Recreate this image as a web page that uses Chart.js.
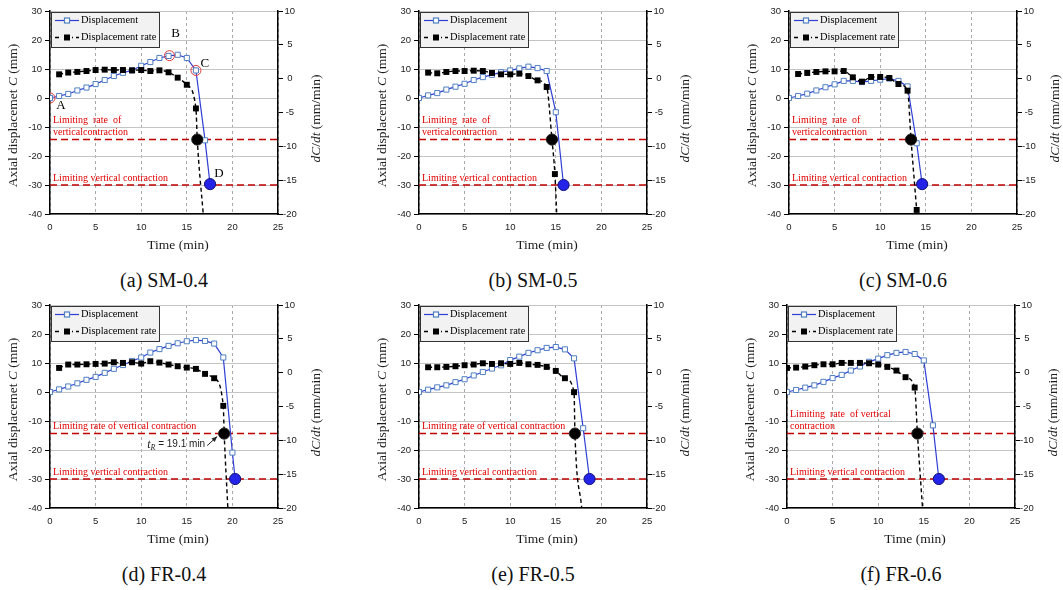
<!DOCTYPE html>
<html>
<head>
<meta charset="utf-8">
<title>Axial displacement and displacement rate</title>
<script src="https://cdn.jsdelivr.net/npm/chart.js@4.4.1/dist/chart.umd.min.js"></script>
<style>
  html, body { margin: 0; padding: 0; background: #fff; }
  body { width: 1063px; height: 590px; position: relative; overflow: hidden; }
  canvas.panel { position: absolute; }
  .caption {
    position: absolute;
    transform: translate(-50%, -50%);
    font: 20px "Liberation Serif", "Times New Roman", serif;
    color: #111;
    white-space: nowrap;
  }
</style>
</head>
<body>
<script>
// Values
const timeTicks = [0, 5, 10, 15, 20, 25];
const dispTicks = [-40, -30, -20, -10, 0, 10, 20, 30];
const rateTicks = [-20, -15, -10, -5, 0, 5, 10];
const limitDisp = -30;  // limiting vertical contraction (mm)
const limitRate = -9;   // limiting rate of vertical contraction (mm/min)

// (a) SM-0.4
const dispTimeA = [0, 1, 2, 3, 4, 5, 6, 7, 8, 9, 10, 11, 12, 13, 14, 15, 16, 17, 17.55];
const dispA = [0, 0.7, 1.4, 2.6, 3.6, 4.8, 6.2, 7.6, 8.7, 9.5, 11.1, 12.4, 13.8, 14.5, 14.9, 13.8, 9.5, -14.6, -29.7];
const rateTimeA = [1, 2, 3, 4, 5, 6, 7, 8, 9, 10, 11, 12, 13, 14, 15, 16, 16.15, 16.8];
const rateA = [0.64, 0.9, 1.0, 1.13, 1.28, 1.33, 1.28, 1.28, 1.23, 1.28, 1.13, 1.23, 0.94, 0.15, -0.9, -4.4, -9, -20];
const keyTimeA = [0, 13.1, 16];
const keyDispA = [0, 14.6, 9.5];
const keyNames = ['A', 'B', 'C', 'D'];

// (b) SM-0.5
const dispTimeB = [0, 1, 2, 3, 4, 5, 6, 7, 8, 9, 10, 11, 12, 13, 14, 15, 15.85];
const dispB = [0, 0.9, 1.7, 2.9, 3.9, 4.9, 6.2, 7.2, 8.0, 8.9, 9.5, 10.2, 10.8, 10.3, 9.3, -4.9, -30];
const rateTimeB = [1, 2, 3, 4, 5, 6, 7, 8, 9, 10, 11, 12, 13, 14, 14.58, 14.9, 15.1];
const rateB = [0.89, 0.79, 0.99, 1.13, 1.13, 1.18, 1.13, 0.84, 0.64, 0.64, 0.74, 0.39, -0.25, -1.23, -9, -14.1, -20];

// (c) SM-0.6
const dispTimeC = [0, 1, 2, 3, 4, 5, 6, 7, 8, 9, 10, 11, 12, 13, 14, 14.6];
const dispC = [0, 0.7, 1.5, 2.6, 3.7, 4.7, 5.9, 5.9, 5.5, 5.9, 6.3, 6.7, 5.9, 4.0, -15.6, -29.7];
const rateTimeC = [1, 2, 3, 4, 5, 6, 7, 8, 9, 10, 11, 12, 13, 13.38, 14];
const rateC = [0.69, 0.84, 0.99, 1.08, 1.08, 1.13, 0.2, -0.44, 0.25, 0.25, 0.1, -0.79, -1.77, -9, -19.4];

// (d) FR-0.4
const dispTimeD = [0, 1, 2, 3, 4, 5, 6, 7, 8, 9, 10, 11, 12, 13, 14, 15, 16, 17, 18, 19, 20, 20.3];
const dispD = [0, 0.9, 1.9, 3.0, 4.2, 5.2, 6.6, 8.0, 9.3, 10.7, 11.9, 13.6, 14.8, 15.9, 16.8, 17.5, 17.9, 17.6, 16.7, 11.9, -20.9, -30];
const rateTimeD = [1, 2, 3, 4, 5, 6, 7, 8, 9, 10, 11, 12, 13, 14, 15, 16, 17, 18, 19, 19.1, 19.5];
const rateD = [0.7, 1.2, 1.2, 1.24, 1.29, 1.34, 1.54, 1.44, 1.54, 1.34, 1.69, 1.49, 1.2, 0.95, 0.75, 0.56, -0.18, -0.82, -4.9, -9, -20];

// (e) FR-0.5
const dispTimeE = [0, 1, 2, 3, 4, 5, 6, 7, 8, 9, 10, 11, 12, 13, 14, 15, 16, 17, 18, 18.7];
const dispE = [0, 0.8, 1.6, 2.3, 3.4, 4.4, 5.7, 6.9, 8.1, 9.2, 11.0, 12.2, 13.5, 14.4, 15.2, 15.5, 14.7, 11.6, -12.5, -30];
const rateTimeE = [1, 2, 3, 4, 5, 6, 7, 8, 9, 10, 11, 12, 13, 14, 15, 16, 17, 17.1, 17.84];
const rateE = [0.8, 0.8, 0.85, 0.95, 1.1, 1.2, 1.39, 1.29, 1.39, 1.29, 1.44, 1.24, 1.15, 0.85, 0.26, -0.82, -2.88, -9, -20];

// (f) FR-0.6
const dispTimeF = [0, 1, 2, 3, 4, 5, 6, 7, 8, 9, 10, 11, 12, 13, 14, 15, 16, 16.65];
const dispF = [0, 0.7, 1.5, 2.3, 3.5, 4.8, 5.9, 7.4, 8.8, 10.4, 11.5, 12.7, 13.5, 13.8, 13.1, 10.9, -11.5, -30];
const rateTimeF = [0, 1, 2, 3, 4, 5, 6, 7, 8, 9, 10, 11, 12, 13, 14, 14.3, 14.86];
const rateF = [0.7, 0.75, 0.9, 1.1, 1.24, 1.24, 1.44, 1.44, 1.44, 1.39, 1.2, 0.85, 0.31, -0.67, -2.2, -9, -20];

const seriesNames = ['Displacement', 'Displacement rate'];
const captions = ['(a) SM-0.4', '(b) SM-0.5', '(c) SM-0.6', '(d) FR-0.4', '(e) FR-0.5', '(f) FR-0.6'];
const rateLabels = [
  ['Limiting  rate  of', 'verticalcontraction'],
  ['Limiting  rate  of', 'verticalcontraction'],
  ['Limiting  rate  of', 'verticalcontraction'],
  ['Limiting rate of vertical contraction'],
  ['Limiting rate of vertical contraction'],
  ['Limiting  rate  of vertical', 'contraction']
];
const dispLabel = 'Limiting vertical contraction';
const tRLabel = ['t', 'R', ' = 19.1 min'];

const colors = {
  blue: '#2f3fd4',
  blueMarker: '#4f7fc0',
  dot: '#2424e8',
  red: '#c00000',
  redText: '#e00000',
  grid: '#c4c4c4',
  vgrid: '#a8a8a8',
  tick: '#222222'
};
const SERIF = '"Liberation Serif", "Times New Roman", serif';
const SANS = '"Liberation Sans", Arial, sans-serif';

const panels = [
  { left: 50,  top: 11,  dispTime: dispTimeA, disp: dispA, rateTime: rateTimeA, rate: rateA },
  { left: 419, top: 11,  dispTime: dispTimeB, disp: dispB, rateTime: rateTimeB, rate: rateB },
  { left: 789, top: 11,  dispTime: dispTimeC, disp: dispC, rateTime: rateTimeC, rate: rateC },
  { left: 50,  top: 305, dispTime: dispTimeD, disp: dispD, rateTime: rateTimeD, rate: rateD },
  { left: 419, top: 305, dispTime: dispTimeE, disp: dispE, rateTime: rateTimeE, rate: rateE },
  { left: 787, top: 305, dispTime: dispTimeF, disp: dispF, rateTime: rateTimeF, rate: rateF }
];

const PLOT_W = 228, PLOT_H = 203;
const CANVAS_W = 324, CANVAS_H = 262;

function toPoints(xs, ys) {
  return xs.map((x, k) => ({ x: x, y: ys[k] }));
}

function fixedTicks(values) {
  return scale => { scale.ticks = values.map(v => ({ value: v })); };
}

// draws a run of differently styled text pieces centred on (cx, cy)
function drawRuns(ctx, runs, cx, cy, angle) {
  ctx.save();
  ctx.translate(cx, cy);
  ctx.rotate(angle);
  ctx.textAlign = 'left';
  ctx.textBaseline = 'middle';
  let total = 0;
  runs.forEach(r => { ctx.font = r.font; total += ctx.measureText(r.text).width; });
  let x = -total / 2;
  runs.forEach(r => {
    ctx.font = r.font;
    ctx.fillStyle = '#1a1a1a';
    ctx.fillText(r.text, x, r.dy || 0);
    x += ctx.measureText(r.text).width;
  });
  ctx.restore();
}

function drawLegend(ctx, area) {
  const lx = Math.round(area.left) + 1, ly = Math.round(area.top) + 1;
  ctx.fillStyle = '#f2f2f2';
  ctx.fillRect(lx, ly, 108, 35);
  ctx.strokeStyle = '#333';
  ctx.lineWidth = 1;
  ctx.strokeRect(lx + 0.5, ly + 0.5, 108, 35);

  const e1 = ly + 8.5, e2 = ly + 25.5;
  // displacement sample
  ctx.strokeStyle = colors.blue;
  ctx.lineWidth = 1.2;
  ctx.beginPath(); ctx.moveTo(lx + 4, e1); ctx.lineTo(lx + 28, e1); ctx.stroke();
  ctx.fillStyle = '#fff';
  ctx.strokeStyle = colors.blueMarker;
  ctx.fillRect(lx + 13.5, e1 - 2.5, 5, 5);
  ctx.strokeRect(lx + 13.5, e1 - 2.5, 5, 5);
  // rate sample
  ctx.strokeStyle = '#000';
  ctx.lineWidth = 1.4;
  ctx.setLineDash([4, 3]);
  ctx.beginPath(); ctx.moveTo(lx + 4, e2); ctx.lineTo(lx + 28, e2); ctx.stroke();
  ctx.setLineDash([]);
  ctx.fillStyle = '#f2f2f2';
  ctx.fillRect(lx + 11, e2 - 5, 10, 10);
  ctx.fillStyle = '#000';
  ctx.fillRect(lx + 13, e2 - 3, 6, 6);

  ctx.fillStyle = '#000';
  ctx.font = '10.4px ' + SERIF;
  ctx.textAlign = 'left';
  ctx.textBaseline = 'middle';
  ctx.fillText(seriesNames[0], lx + 30, e1);
  ctx.fillText(seriesNames[1], lx + 30, e2);
}

function makePanel(p, i) {
  const canvas = document.createElement('canvas');
  canvas.className = 'panel';
  canvas.width = CANVAS_W;
  canvas.height = CANVAS_H;
  canvas.style.left = (p.left - 50) + 'px';
  canvas.style.top = (p.top - 11) + 'px';
  canvas.style.width = CANVAS_W + 'px';
  canvas.style.height = CANVAS_H + 'px';
  document.body.appendChild(canvas);

  const cap = document.createElement('div');
  cap.className = 'caption';
  cap.textContent = captions[i];
  cap.style.left = (p.left + PLOT_W / 2) + 'px';
  cap.style.top = (p.top + 269) + 'px';
  document.body.appendChild(cap);

  const tMin = timeTicks[0], tMax = timeTicks[timeTicks.length - 1];
  const last = p.disp.length - 1;
  const failIdx = p.rate.indexOf(limitRate);

  const datasets = [
    {
      data: [{ x: tMin, y: limitDisp }, { x: tMax, y: limitDisp }],
      yAxisID: 'y', borderColor: colors.red, borderWidth: 1.5, borderDash: [7, 4],
      pointRadius: 0, order: 6
    },
    {
      data: [{ x: tMin, y: limitRate }, { x: tMax, y: limitRate }],
      yAxisID: 'y2', borderColor: colors.red, borderWidth: 1.5, borderDash: [7, 4],
      pointRadius: 0, order: 6
    },
    {
      label: seriesNames[0],
      data: toPoints(p.dispTime, p.disp),
      yAxisID: 'y', borderColor: colors.blue, borderWidth: 1.2,
      pointStyle: 'rect', pointRadius: 3.6,
      pointBackgroundColor: '#fff', pointBorderColor: colors.blueMarker, pointBorderWidth: 1,
      order: 3
    },
    {
      label: seriesNames[1],
      data: toPoints(p.rateTime, p.rate),
      yAxisID: 'y2', borderColor: '#000', borderWidth: 1.4, borderDash: [4, 3],
      cubicInterpolationMode: 'monotone',
      pointStyle: 'rect',
      pointRadius: c => (c.raw && c.raw.y <= rateTicks[0]) ? 0 : 4.2,
      pointBackgroundColor: '#000', pointBorderColor: '#000', pointBorderWidth: 0,
      order: 2
    },
    {
      data: [{ x: p.dispTime[last], y: p.disp[last] }],
      yAxisID: 'y', showLine: false, pointRadius: 5.6,
      pointBackgroundColor: colors.dot, pointBorderColor: '#12127a', pointBorderWidth: 1,
      order: 1
    },
    {
      data: [{ x: p.rateTime[failIdx], y: limitRate }],
      yAxisID: 'y2', showLine: false, pointRadius: 5.6,
      pointBackgroundColor: '#000', pointBorderColor: '#222', pointBorderWidth: 1,
      order: 1
    }
  ];
  if (i === 0) {
    datasets.push({
      data: toPoints(keyTimeA, keyDispA),
      yAxisID: 'y', showLine: false, pointRadius: 5,
      pointBackgroundColor: 'rgba(0,0,0,0)', pointBorderColor: '#e03a3a', pointBorderWidth: 1,
      order: 0
    });
  }

  const overlay = {
    id: 'overlay',
    afterDatasetsDraw(chart) {
      const { ctx, chartArea: a, scales } = chart;
      ctx.save();
      // red limit labels
      ctx.fillStyle = colors.redText;
      ctx.font = '10px ' + SERIF;
      ctx.textAlign = 'left';
      ctx.textBaseline = 'middle';
      const yr = scales.y2.getPixelForValue(limitRate);
      const lines = rateLabels[i];
      lines.forEach((t, k) => ctx.fillText(t, a.left + 3, yr - 7.5 - (lines.length - 1 - k) * 11.5));
      ctx.fillText(dispLabel, a.left + 3, scales.y.getPixelForValue(limitDisp) - 6.5);

      drawLegend(ctx, a);

      if (i === 0) {
        const offs = [[11, 8], [6, -22], [9, -7]];
        ctx.fillStyle = '#000';
        ctx.font = '13px ' + SERIF;
        ctx.textAlign = 'center';
        keyTimeA.forEach((t, k) => {
          const px = scales.x.getPixelForValue(t), py = scales.y.getPixelForValue(keyDispA[k]);
          ctx.fillText(keyNames[k], px + offs[k][0], py + offs[k][1]);
        });
        const dx = scales.x.getPixelForValue(p.dispTime[last]), dy = scales.y.getPixelForValue(p.disp[last]);
        ctx.fillText(keyNames[3], dx + 9, dy - 11);
      }

      if (i === 3) {
        const fx = scales.x.getPixelForValue(p.rateTime[failIdx]);
        const fy = scales.y2.getPixelForValue(limitRate);
        ctx.textAlign = 'left';
        ctx.textBaseline = 'middle';
        let x = fx - 77;
        const y = fy + 11;
        ctx.fillStyle = '#222';
        ctx.font = 'italic 12px ' + SERIF;
        ctx.fillText(tRLabel[0], x, y);
        x += ctx.measureText(tRLabel[0]).width;
        ctx.font = 'italic 8px ' + SERIF;
        ctx.fillText(tRLabel[1], x, y + 3);
        x += ctx.measureText(tRLabel[1]).width;
        ctx.font = '10px ' + SANS;
        ctx.fillText(tRLabel[2], x, y);
        x += ctx.measureText(tRLabel[2]).width;
        // arrow to the failure point
        const x0 = x + 2, y0 = y + 1, x1 = fx - 7, y1 = fy + 3;
        ctx.strokeStyle = '#222';
        ctx.lineWidth = 1;
        ctx.beginPath(); ctx.moveTo(x0, y0); ctx.lineTo(x1, y1); ctx.stroke();
        const ang = Math.atan2(y1 - y0, x1 - x0);
        ctx.fillStyle = '#222';
        ctx.beginPath();
        ctx.moveTo(x1, y1);
        ctx.lineTo(x1 - 6 * Math.cos(ang - 0.4), y1 - 6 * Math.sin(ang - 0.4));
        ctx.lineTo(x1 - 6 * Math.cos(ang + 0.4), y1 - 6 * Math.sin(ang + 0.4));
        ctx.closePath();
        ctx.fill();
      }
      ctx.restore();
    },
    afterDraw(chart) {
      const { ctx, chartArea: a } = chart;
      const mid = (a.top + a.bottom) / 2;
      const normal = '13.5px ' + SERIF, italic = 'italic 13.5px ' + SERIF;
      drawRuns(ctx, [
        { text: 'Axial displacemet ', font: normal },
        { text: 'C', font: italic },
        { text: ' (mm)', font: normal }
      ], a.left - 37, mid + 3, -Math.PI / 2);
      drawRuns(ctx, [
        { text: 'dC', font: italic },
        { text: '/', font: normal },
        { text: 'dt', font: italic },
        { text: ' (mm/min)', font: normal }
      ], a.right + 38, mid + 6, -Math.PI / 2);
      drawRuns(ctx, [{ text: 'Time (min)', font: normal }], a.left + 128, a.bottom + 31, 0);
    }
  };

  const tickFont = { family: SANS, size: 9.5 };

  new Chart(canvas, {
    type: 'line',
    data: { datasets: datasets },
    plugins: [overlay],
    options: {
      responsive: false,
      animation: false,
      events: [],
      layout: { padding: { top: 11, left: 0, right: 0, bottom: 0 } },
      plugins: { legend: { display: false }, tooltip: { enabled: false } },
      scales: {
        x: {
          type: 'linear',
          min: tMin, max: tMax,
          afterBuildTicks: fixedTicks(timeTicks),
          afterFit: s => { s.height = CANVAS_H - 11 - PLOT_H; },
          grid: { color: colors.vgrid, lineWidth: 1, drawTicks: false },
          border: { color: '#000', width: 1.5, dash: [3, 3] },
          ticks: { font: tickFont, color: colors.tick, padding: 8, maxRotation: 0 }
        },
        y: {
          position: 'left',
          min: dispTicks[0], max: dispTicks[dispTicks.length - 1],
          afterBuildTicks: fixedTicks(dispTicks),
          afterFit: s => { s.width = 50; },
          grid: { color: colors.grid, lineWidth: 1, tickLength: 5, tickColor: '#000' },
          border: { color: '#000', width: 1.5 },
          ticks: { font: tickFont, color: colors.tick, padding: 3 }
        },
        y2: {
          position: 'right',
          min: rateTicks[0], max: rateTicks[rateTicks.length - 1],
          afterBuildTicks: fixedTicks(rateTicks),
          afterFit: s => { s.width = CANVAS_W - 50 - PLOT_W; },
          grid: { drawOnChartArea: false, tickLength: 5, tickColor: '#000' },
          border: { color: '#000', width: 1.5 },
          ticks: { font: tickFont, color: colors.tick, padding: 0, crossAlign: 'center' }
        }
      }
    }
  });
}

panels.forEach(makePanel);
</script>
</body>
</html>
